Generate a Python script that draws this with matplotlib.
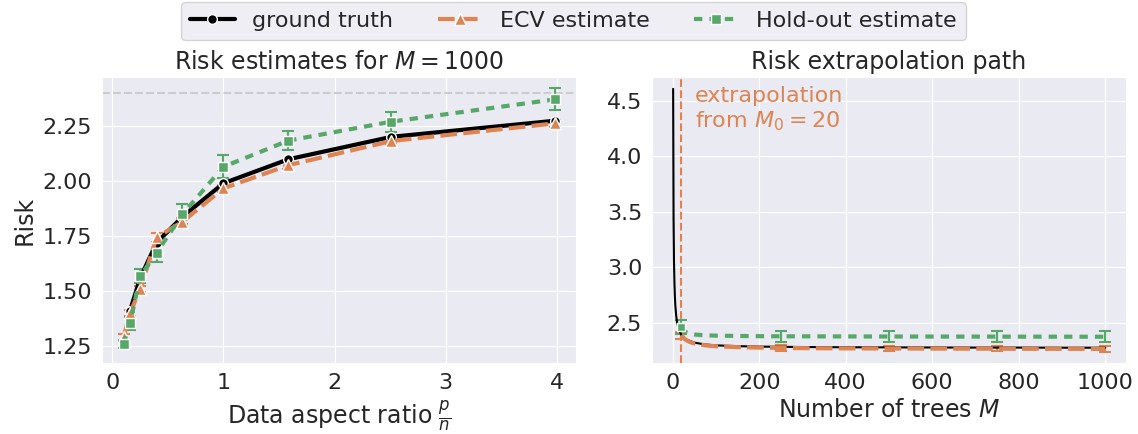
import matplotlib
matplotlib.use("Agg")
import matplotlib.pyplot as plt
import seaborn as sns

# ---- risk vs. data aspect ratio (M = 1000) ----
ratio = [0.1, 0.158, 0.251, 0.398, 0.631, 1.0, 1.585, 2.512, 3.981]
truth_ratio = [0.158, 0.251, 0.398, 0.631, 1.0, 1.585, 2.512, 3.981]
truth_risk = [1.41, 1.56, 1.72, 1.838, 1.99, 2.099, 2.201, 2.274]
ecv_risk = [1.29, 1.40, 1.51, 1.744, 1.815, 1.967, 2.072, 2.182, 2.262]
ecv_err = [0.015, 0.015, 0.015, 0.02, 0.015, 0.015, 0.015, 0.015, 0.015]
hold_risk = [1.259, 1.353, 1.568, 1.674, 1.849, 2.065, 2.184, 2.27, 2.371]
hold_err = [0.02, 0.03, 0.033, 0.044, 0.045, 0.053, 0.045, 0.045, 0.05]
null_risk = 2.4

# ---- risk extrapolation path over number of trees ----
trees = [1, 2, 3, 4, 5, 6, 8, 10, 15, 20, 30, 50, 75, 100, 150, 200,
         300, 400, 500, 600, 700, 800, 900, 1000]
truth_path = [4.61, 3.44, 3.05, 2.86, 2.74, 2.66, 2.565, 2.505, 2.43, 2.39,
              2.35, 2.32, 2.303, 2.295, 2.288, 2.284, 2.280, 2.278, 2.277,
              2.276, 2.275, 2.275, 2.274, 2.274]

ecv_trees = [20, 30, 40, 50, 75, 100, 150, 200, 250, 300, 400, 500, 600,
             700, 750, 800, 900, 1000]
ecv_path = [2.387, 2.345, 2.325, 2.312, 2.295, 2.287, 2.279, 2.275, 2.272,
            2.270, 2.268, 2.267, 2.266, 2.265, 2.265, 2.264, 2.264, 2.263]

hold_trees = [20, 30, 40, 50, 75, 100, 150, 200, 250, 500, 750, 1000]
hold_path = [2.46, 2.415, 2.40, 2.393, 2.386, 2.383, 2.38, 2.378, 2.377,
             2.375, 2.374, 2.373]

err_trees = [20, 250, 500, 750, 1000]
ecv_path_err = [0.03, 0.025, 0.025, 0.025, 0.025]
hold_path_err = [0.06, 0.05, 0.05, 0.05, 0.05]
M0 = 20

sns.set_style("darkgrid")
plt.rcParams["font.family"] = ["DejaVu Sans"]
plt.rcParams["mathtext.fontset"] = "dejavusans"

BLACK = "black"
ORANGE = "#DD8452"
GREEN = "#55A868"
TICK = 16
LABEL = 17

fig, (ax1, ax2) = plt.subplots(1, 2, figsize=(11.38, 4.34), dpi=100)
fig.subplots_adjust(left=0.0896, right=0.9895, bottom=0.1636, top=0.8226,
                    wspace=0.16)

# left panel
ax1.axhline(null_risk, color="#cccccc", lw=1.5, ls="--", zorder=1)
ax1.errorbar(ratio, ecv_risk, yerr=ecv_err, fmt="none", ecolor=ORANGE,
             elinewidth=1.5, capsize=4, capthick=1.5, zorder=2)
ax1.errorbar(ratio, hold_risk, yerr=hold_err, fmt="none", ecolor=GREEN,
             elinewidth=1.5, capsize=4, capthick=1.5, zorder=2)
l_truth, = ax1.plot(truth_ratio, truth_risk, color=BLACK, lw=3, marker="o",
                    ms=7, mec="white", mew=1, label="ground truth", zorder=3)
l_ecv, = ax1.plot(ratio, ecv_risk, color=ORANGE, lw=3, dashes=(4, 1.5),
                  marker="^", ms=9, mec="white", mew=1,
                  label="ECV estimate", zorder=4)
l_hold, = ax1.plot(ratio, hold_risk, color=GREEN, lw=3, dashes=(2, 1.7),
                   marker="s", ms=7.5, mec="white", mew=1,
                   label="Hold-out estimate", zorder=5)
ax1.set_ylim(1.173, 2.473)
ax1.set_yticks([1.25, 1.5, 1.75, 2.0, 2.25])
ax1.set_xticks([0, 1, 2, 3, 4])
ax1.set_title(r"Risk estimates for $M=1000$", fontsize=LABEL)
ax1.set_xlabel(r"Data aspect ratio $\frac{p}{n}$", fontsize=LABEL)
ax1.set_ylabel("Risk", fontsize=LABEL)
ax1.tick_params(labelsize=TICK)

# right panel
ax2.axvline(M0, color=ORANGE, lw=1.5, ls="--", zorder=1)
ax2.plot(trees, truth_path, color=BLACK, lw=1.5, zorder=3)
ax2.plot(ecv_trees, ecv_path, color=ORANGE, lw=3, dashes=(4, 1.5), zorder=4)
ax2.plot(hold_trees, hold_path, color=GREEN, lw=3, dashes=(2, 1.7), zorder=4)
ecv_at = [ecv_path[ecv_trees.index(m)] for m in err_trees]
hold_at = [hold_path[hold_trees.index(m)] for m in err_trees]
ax2.errorbar(err_trees, ecv_at, yerr=ecv_path_err, fmt="none", ecolor=ORANGE,
             elinewidth=1.5, capsize=4, capthick=1.5, zorder=2)
ax2.errorbar(err_trees, hold_at, yerr=hold_path_err, fmt="none", ecolor=GREEN,
             elinewidth=1.5, capsize=4, capthick=1.5, zorder=2)
ax2.plot([M0], [hold_at[0]], marker="s", ms=6, color=GREEN, mec="white",
         mew=1, zorder=5)
ax2.text(52, 4.64, "extrapolation\n" + r"from $M_0=20$", color=ORANGE,
         fontsize=TICK, va="top", ha="left")
ax2.set_xlim(-48, 1048)
ax2.set_ylim(2.136, 4.717)
ax2.set_yticks([2.5, 3.0, 3.5, 4.0, 4.5])
ax2.set_xticks([0, 200, 400, 600, 800, 1000])
ax2.set_title("Risk extrapolation path", fontsize=LABEL)
ax2.set_xlabel(r"Number of trees $M$", fontsize=LABEL)
ax2.tick_params(labelsize=TICK)

fig.legend(handles=[l_truth, l_ecv, l_hold], loc="upper center",
           bbox_to_anchor=(0.504, 1.0), ncol=3, fontsize=TICK,
           frameon=True, borderaxespad=0.1)

fig.savefig("out.png", dpi=100)
